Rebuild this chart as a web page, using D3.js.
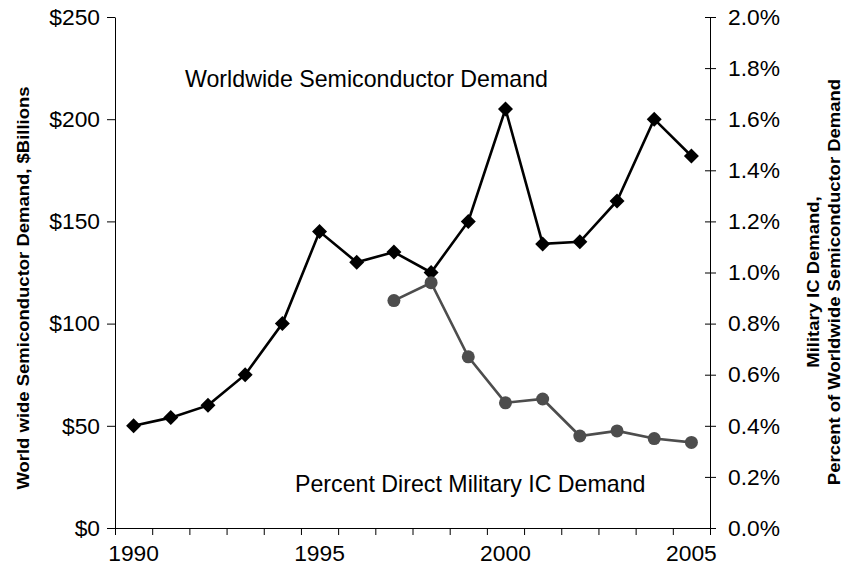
<!DOCTYPE html>
<html>
<head>
<meta charset="utf-8">
<script src="https://cdn.jsdelivr.net/npm/d3@7/dist/d3.min.js"></script>
<style>
  body { margin: 0; background: #fff; }
  svg { display: block; font-family: Arial, "Liberation Sans", sans-serif; }
  .axis path, .axis line { stroke: #000; stroke-width: 1; }
  .axis text { font-size: 22.8px; fill: #000; }
</style>
</head>
<body>
<svg id="chart" width="843" height="575"></svg>
<script>
// chart data
const years = [1990, 1991, 1992, 1993, 1994, 1995, 1996, 1997, 1998, 1999, 2000, 2001, 2002, 2003, 2004, 2005];
const demand = [50, 54, 60, 75, 100, 145, 130, 135, 125, 150, 205, 139, 140, 160, 200, 182];
const militaryPct = [null, null, null, null, null, null, null, 0.89, 0.96, 0.67, 0.49, 0.505, 0.36, 0.38, 0.35, 0.335];
const yearLabels = [1990, 1995, 2000, 2005];
const leftTicks = [0, 50, 100, 150, 200, 250];
const rightTicks = [0, 0.2, 0.4, 0.6, 0.8, 1.0, 1.2, 1.4, 1.6, 1.8, 2.0];

const svg = d3.select('#chart');
const plot = { left: 115, right: 710, top: 17, bottom: 528 };

const x = d3.scaleBand().domain(years).range([plot.left, plot.right]);
const xEdges = d3.scaleLinear().domain([0, years.length]).range([plot.left, plot.right]);
const yLeft = d3.scaleLinear().domain([0, 250]).range([plot.bottom, plot.top]);
const yRight = d3.scaleLinear().domain([0, 2]).range([plot.bottom, plot.top]);
const cx = d => x(d) + x.bandwidth() / 2;

// left axis
svg.append('g')
    .attr('class', 'axis')
    .attr('transform', `translate(${plot.left},0)`)
    .call(d3.axisLeft(yLeft).tickValues(leftTicks).tickSize(8).tickSizeOuter(0).tickPadding(7)
        .tickFormat(d => '$' + d));

// right axis, ticks crossing the line
const rightAxis = svg.append('g')
    .attr('class', 'axis')
    .attr('transform', `translate(${plot.right},0)`)
    .call(d3.axisRight(yRight).tickValues(rightTicks).tickSize(6).tickSizeOuter(0).tickPadding(12)
        .tickFormat(d => d.toFixed(1) + '%'));
rightAxis.selectAll('.tick line').attr('x1', -5).attr('x2', 6);

// bottom axis: tick marks on category edges, labels centred on categories
svg.append('g')
    .attr('class', 'axis')
    .attr('transform', `translate(0,${plot.bottom})`)
    .call(d3.axisBottom(xEdges).tickValues(d3.range(years.length + 1)).tickSize(7).tickSizeOuter(0)
        .tickFormat(''));
svg.append('g')
    .attr('class', 'axis')
    .attr('transform', `translate(0,${plot.bottom})`)
    .call(d3.axisBottom(x).tickValues(yearLabels).tickSize(0).tickPadding(17))
    .call(g => g.select('.domain').remove());

// demand line with diamonds
const demandLine = d3.line().x((d, i) => cx(years[i])).y(d => yLeft(d));
svg.append('path')
    .datum(demand)
    .attr('fill', 'none')
    .attr('stroke', '#000')
    .attr('stroke-width', 2.6)
    .attr('d', demandLine);
svg.selectAll('.diamond')
    .data(demand)
    .enter()
    .append('path')
    .attr('class', 'diamond')
    .attr('transform', (d, i) => `translate(${cx(years[i])},${yLeft(d)})`)
    .attr('d', 'M0,-7.5L7.5,0L0,7.5L-7.5,0Z')
    .attr('fill', '#000');

// military share line with circles
const milLine = d3.line()
    .defined(d => d !== null)
    .x((d, i) => cx(years[i]))
    .y(d => yRight(d));
svg.append('path')
    .datum(militaryPct)
    .attr('fill', 'none')
    .attr('stroke', '#4d4d4d')
    .attr('stroke-width', 2.6)
    .attr('d', milLine);
svg.selectAll('.dot')
    .data(militaryPct.map((v, i) => ({ year: years[i], v })).filter(d => d.v !== null))
    .enter()
    .append('circle')
    .attr('class', 'dot')
    .attr('cx', d => cx(d.year))
    .attr('cy', d => yRight(d.v))
    .attr('r', 6.5)
    .attr('fill', '#4d4d4d');

// series annotations
svg.append('text')
    .attr('x', 185).attr('y', 87)
    .attr('font-size', 23.2)
    .text('Worldwide Semiconductor Demand');
svg.append('text')
    .attr('x', 295).attr('y', 492)
    .attr('font-size', 23.2)
    .text('Percent Direct Military IC Demand');

// axis titles (slightly condensed across the line, as in the original)
function axisTitle(tx, ty, label) {
    svg.append('text')
        .attr('transform', `translate(${tx},${ty}) rotate(-90) scale(1,0.88)`)
        .attr('text-anchor', 'middle')
        .attr('font-size', 18.5)
        .attr('font-weight', 'bold')
        .text(label);
}
axisTitle(29, 288, 'World wide Semiconductor Demand, $Billions');
axisTitle(819, 282, 'Military IC Demand,');
axisTitle(840, 282, 'Percent of Worldwide Semiconductor Demand');
</script>
</body>
</html>
